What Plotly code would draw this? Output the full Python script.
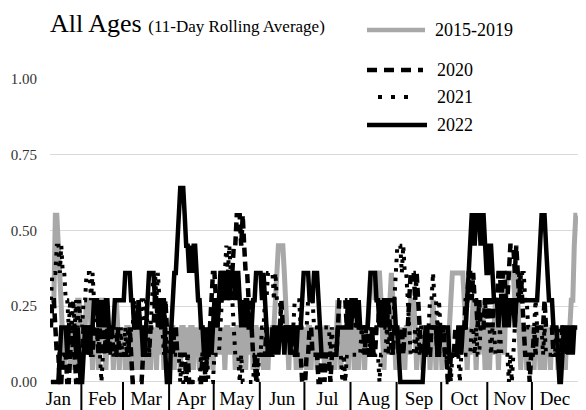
import plotly.graph_objects as go

# ---------------- data (11-day rolling average, daily, Jan 11 .. Dec 31) ----------------
months = ["Jan", "Feb", "Mar", "Apr", "May", "Jun", "Jul", "Aug", "Sep", "Oct", "Nov", "Dec"]
month_days = [31, 28, 31, 30, 31, 30, 31, 31, 30, 31, 30, 31]
first_day = 11

avg_2015_2019 = [
    # Jan 11-31
    0.27, 0.27, 0.27, 0.55, 0.55, 0.45, 0.36, 0.27, 0.18, 0.04, 0.18, 0.09, 0.18, 0.04, 0.18, 0.18, 0.04, 0.18, 0.27, 0.27, 0.18,
    # Feb
    0.04, 0.18, 0.18, 0.27, 0.27, 0.27, 0.18, 0.04, 0.18, 0.09, 0.18, 0.04, 0.18, 0.27, 0.27, 0.18, 0.04, 0.18, 0.09, 0.18,
    0.18, 0.04, 0.18, 0.27, 0.18, 0.04, 0.18, 0.09,
    # Mar
    0.18, 0.04, 0.18, 0.18, 0.04, 0.18, 0.09, 0.18, 0.04, 0.18, 0.18, 0.04, 0.18, 0.09, 0.18, 0.04, 0.18, 0.18, 0.04, 0.18,
    0.09, 0.18, 0.04, 0.18, 0.18, 0.09, 0.18, 0.04, 0.18, 0.09, 0.18,
    # Apr
    0.04, 0.18, 0.18, 0.04, 0.18, 0.09, 0.18, 0.04, 0.18, 0.18, 0.09, 0.09, 0.18, 0.04, 0.18, 0.18, 0.04, 0.18, 0.09, 0.18,
    0.04, 0.18, 0.18, 0.09, 0.18, 0.04, 0.18, 0.09, 0.18, 0.04,
    # May
    0.18, 0.09, 0.18, 0.09, 0.18, 0.09, 0.18, 0.04, 0.18, 0.18, 0.09, 0.18, 0.09, 0.18, 0.04, 0.18, 0.18, 0.04, 0.18, 0.09,
    0.18, 0.04, 0.18, 0.18, 0.09, 0.18, 0.04, 0.18, 0.18, 0.04, 0.18,
    # Jun
    0.09, 0.18, 0.04, 0.18, 0.18, 0.04, 0.18, 0.09, 0.18, 0.18, 0.27, 0.36, 0.45, 0.45, 0.45, 0.45, 0.36, 0.27,
    0.18, 0.04, 0.18, 0.18, 0.09, 0.18, 0.04, 0.18, 0.18, 0.04, 0.18, 0.09,
    # Jul
    0.18, 0.04, 0.18, 0.18, 0.04, 0.18, 0.09, 0.18, 0.04, 0.18, 0.18, 0.09, 0.18, 0.04, 0.18, 0.18, 0.04, 0.18, 0.09, 0.18,
    0.04, 0.18, 0.27, 0.18, 0.04, 0.18, 0.09, 0.18, 0.18, 0.04, 0.18,
    # Aug
    0.09, 0.18, 0.04, 0.18, 0.18, 0.04, 0.18, 0.09, 0.18, 0.04, 0.18, 0.18, 0.27, 0.36,
    0.36, 0.36, 0.27, 0.36, 0.36, 0.36, 0.27, 0.18,
    0.04, 0.18, 0.09, 0.18, 0.27, 0.36, 0.27, 0.18, 0.04,
    # Sep
    0.18, 0.04, 0.18, 0.09, 0.18, 0.04, 0.18, 0.18, 0.09, 0.27, 0.27, 0.27, 0.18, 0.04, 0.18, 0.09, 0.18, 0.04, 0.18, 0.18,
    0.09, 0.18, 0.04, 0.18, 0.27, 0.18, 0.04, 0.18, 0.09, 0.18,
    # Oct
    0.04, 0.18, 0.09, 0.18, 0.04, 0.18, 0.27,
    0.36, 0.36, 0.36, 0.36, 0.36, 0.36, 0.36, 0.36, 0.27,
    0.18, 0.04, 0.18, 0.09, 0.18, 0.27, 0.18, 0.04, 0.18, 0.09, 0.18, 0.27, 0.18, 0.04, 0.18,
    # Nov
    0.18, 0.04, 0.18, 0.09, 0.18, 0.27, 0.18, 0.04, 0.18, 0.27, 0.18, 0.09, 0.27, 0.36, 0.36, 0.36, 0.36, 0.36, 0.27, 0.36,
    0.27, 0.18, 0.04, 0.18, 0.09, 0.18, 0.04, 0.18, 0.18, 0.09,
    # Dec
    0.18, 0.04, 0.18, 0.09, 0.18, 0.04, 0.18, 0.18, 0.04, 0.18, 0.09, 0.18, 0.04, 0.18, 0.18, 0.09, 0.18, 0.04, 0.18, 0.09,
    0.18, 0.18, 0.04, 0.18, 0.18, 0.18, 0.27, 0.27, 0.45, 0.55, 0.55,
]

y2020 = [
    # Jan
    0.18, 0.27, 0.27, 0.18, 0.09, 0.09, 0, 0, 0.09, 0.09, 0.09, 0, 0, 0.09, 0.18, 0.09, 0.09, 0, 0, 0.09, 0.09,
    # Feb
    0.09, 0.18, 0.18, 0.09, 0.18, 0.18, 0.09, 0.09, 0.18, 0.18, 0.18, 0.09, 0.18, 0.18, 0.09, 0.09, 0.18, 0.18, 0.09, 0.18,
    0.18, 0.09, 0.09, 0.09, 0.18, 0.09, 0.09, 0.09,
    # Mar
    0.09, 0.09, 0.09, 0.09, 0.18, 0.09, 0, 0, 0, 0, 0, 0, 0, 0.09, 0.09, 0.09, 0.09, 0.09, 0.18, 0.18,
    0.18, 0.27, 0.27, 0.18, 0.27, 0.27, 0.18, 0.18, 0.27, 0.18, 0.18,
    # Apr
    0.18, 0.18, 0.09, 0.18, 0.18, 0.09, 0.09, 0.09, 0.09, 0.09, 0.09, 0, 0.09, 0, 0, 0, 0, 0, 0, 0,
    0, 0, 0.09, 0.09, 0, 0.09, 0.09, 0.18, 0.27, 0.36,
    # May
    0.36, 0.27, 0.18, 0.27, 0.27, 0.36, 0.36, 0.27, 0.36, 0.27, 0.36, 0.27, 0.36, 0.45, 0.45, 0.55, 0.55, 0.55, 0.45, 0.55,
    0.45, 0.36, 0.36, 0.27, 0.27, 0.18, 0.09, 0.09, 0, 0.09, 0.09,
    # Jun
    0.09, 0.09, 0.09, 0.09, 0.18, 0.09, 0.09, 0.09, 0.09, 0.18, 0.18, 0.18, 0.18, 0.18, 0.27, 0.18, 0.18, 0.18, 0.18, 0.18,
    0.18, 0.09, 0.18, 0.09, 0.09, 0.09, 0.09, 0.09, 0, 0,
    # Jul
    0, 0.09, 0.09, 0.18, 0.18, 0.09, 0.09, 0.09, 0.09, 0, 0, 0.09, 0.09, 0, 0.09, 0.09, 0.09, 0, 0.09, 0.09,
    0.09, 0.09, 0.18, 0.27, 0.27, 0.27, 0.27, 0.27, 0.18, 0.27, 0.27,
    # Aug
    0.27, 0.27, 0.27, 0.18, 0.27, 0.18, 0.18, 0.18, 0.18, 0.09, 0.18, 0.18, 0.09, 0.09, 0.18, 0.09, 0.09, 0.18, 0.18, 0.27,
    0.27, 0.18, 0.27, 0.18, 0.18, 0.27, 0.18, 0.18, 0.09, 0.18, 0.18,
    # Sep
    0.18, 0.09, 0.09, 0.18, 0.09, 0.18, 0.18, 0.18, 0.27, 0.36, 0.36, 0.36, 0.27, 0.36, 0.27, 0.18, 0.09, 0.09, 0.09, 0.09,
    0.18, 0.09, 0.09, 0.18, 0.18, 0.18, 0.18, 0.09, 0.09, 0.18,
    # Oct
    0.18, 0.18, 0.09, 0.09, 0, 0, 0.09, 0.09, 0.09, 0.18, 0.09, 0.09, 0.09, 0.18, 0.18, 0.18, 0.27, 0.27, 0.36, 0.36,
    0.27, 0.36, 0.27, 0.27, 0.18, 0.27, 0.18, 0.18, 0.18, 0.27, 0.27,
    # Nov
    0.18, 0.27, 0.27, 0.18, 0.27, 0.27, 0.27, 0.36, 0.36, 0.27, 0.36, 0.36, 0.27, 0.27, 0.36, 0.45, 0.45, 0.45, 0.36, 0.45,
    0.36, 0.27, 0.36, 0.27, 0.18, 0.09, 0.09, 0.09, 0, 0.09,
    # Dec
    0.09, 0.18, 0.09, 0.18, 0.18, 0.18, 0.18, 0.18, 0.27, 0.18, 0.18, 0.18, 0.18, 0.18, 0.09, 0.09, 0.09, 0.09, 0.09, 0.09,
    0.18, 0.18, 0.18, 0.09, 0.18, 0.18, 0.09, 0.18, 0.18, 0.18, 0.18,
]

y2021 = [
    # Jan
    0.27, 0.36, 0.36, 0.36, 0.45, 0.45, 0.36, 0.45, 0.36, 0.36, 0.27, 0.27, 0.18, 0.27, 0.18, 0.27, 0.18, 0.27, 0.18, 0.27, 0.18,
    # Feb
    0.18, 0.27, 0.27, 0.36, 0.36, 0.36, 0.27, 0.36, 0.27, 0.27, 0.18, 0.09, 0.09, 0, 0.09, 0.09, 0.18, 0.09, 0.18, 0.09,
    0.18, 0.09, 0.09, 0.18, 0.09, 0.09, 0.18, 0.09,
    # Mar
    0.09, 0.18, 0.09, 0.18, 0.09, 0.18, 0.18, 0.27, 0.18, 0.18, 0.27, 0.18, 0.27, 0.27, 0.18, 0.27, 0.18, 0.09, 0.18, 0.27,
    0.36, 0.36, 0.27, 0.36, 0.27, 0.18, 0.18, 0.09, 0.18, 0.09, 0.18,
    # Apr
    0.18, 0.18, 0.09, 0.09, 0.09, 0.09, 0.09, 0, 0.09, 0, 0, 0, 0, 0, 0, 0, 0, 0, 0, 0,
    0, 0.09, 0, 0, 0, 0.09, 0, 0, 0, 0,
    # May
    0.09, 0.09, 0.09, 0.09, 0.18, 0.27, 0.36, 0.36, 0.45, 0.36, 0.45, 0.36, 0.27, 0.18, 0.09, 0.09, 0.09, 0, 0.09, 0,
    0, 0, 0, 0, 0, 0, 0, 0.09, 0.09, 0, 0.09,
    # Jun
    0.09, 0.18, 0.18, 0.27, 0.27, 0.36, 0.36, 0.36, 0.36, 0.27, 0.36, 0.27, 0.27, 0.27, 0.18, 0.18, 0.18, 0.18, 0.18, 0.18,
    0.18, 0.18, 0.18, 0.27, 0.27, 0.27, 0.27, 0.18, 0.18, 0.18,
    # Jul
    0.18, 0.18, 0.27, 0.27, 0.27, 0.27, 0.18, 0.18, 0.18, 0.18, 0.18, 0.18, 0.18, 0.18, 0.18, 0.18, 0.18, 0.09, 0.18, 0.09,
    0.09, 0.09, 0.09, 0.09, 0.09, 0, 0.09, 0, 0.09, 0.09, 0.09,
    # Aug
    0.09, 0.09, 0.09, 0.09, 0.09, 0.09, 0.09, 0.18, 0.09, 0.09, 0.09, 0.09, 0.09, 0.18, 0.09, 0.09, 0.09, 0.09, 0.09, 0,
    0.09, 0.09, 0.09, 0.09, 0.18, 0.09, 0.18, 0.09, 0.18, 0.27, 0.36,
    # Sep
    0.45, 0.45, 0.45, 0.36, 0.45, 0.36, 0.36, 0.27, 0.18, 0.09, 0.09, 0.09, 0.18, 0.09, 0.18, 0.09, 0.18, 0.18, 0.18, 0.18,
    0.18, 0.18, 0.27, 0.27, 0.36, 0.27, 0.27, 0.18, 0.27, 0.18,
    # Oct
    0.18, 0.18, 0.09, 0.09, 0, 0.09, 0, 0.09, 0.09, 0.09, 0.09, 0.09, 0, 0.09, 0.09, 0.09, 0.09, 0.09, 0.09, 0.09,
    0.18, 0.18, 0.09, 0.18, 0.09, 0.09, 0.18, 0.18, 0.18, 0.27, 0.18,
    # Nov
    0.18, 0.18, 0.09, 0.18, 0.18, 0.09, 0.09, 0.09, 0.18, 0.09, 0.09, 0.09, 0.09, 0.09, 0, 0.09, 0, 0.09, 0.18, 0.27,
    0.27, 0.36, 0.27, 0.36, 0.36, 0.27, 0.27, 0.18, 0.18, 0.18,
    # Dec
    0.18, 0.18, 0.27, 0.18, 0.18, 0.18, 0.18, 0.09, 0.18, 0.09, 0.09, 0.09, 0.09, 0.09, 0.09, 0.09, 0.18, 0.18, 0.18, 0.09,
    0.18, 0.18, 0.09, 0.09, 0.18, 0.18, 0.18, 0.18, 0.18, 0.18, 0.18,
]

y2022 = [
    # Jan
    0, 0, 0, 0, 0, 0, 0.09, 0.18, 0.18, 0.18, 0.18, 0.09, 0.18, 0.18, 0.18, 0.18, 0.18, 0.09, 0.18, 0.09, 0,
    # Feb
    0, 0.09, 0.18, 0.18, 0.18, 0.09, 0.18, 0.18, 0.27, 0.27, 0.27, 0.18, 0.27, 0.18, 0.27, 0.18, 0.27, 0.27, 0.18, 0.18,
    0.18, 0.18, 0.27, 0.27, 0.27, 0.27, 0.27, 0.27,
    # Mar
    0.27, 0.36, 0.36, 0.36, 0.36, 0.27, 0.27, 0.18, 0.18, 0.18, 0.27, 0.18, 0.18, 0.09, 0.09, 0.18, 0.27, 0.36, 0.36, 0.36,
    0.36, 0.27, 0.27, 0.27, 0.18, 0.27, 0.27, 0.27, 0.09, 0, 0,
    # Apr
    0, 0.18, 0.27, 0.36, 0.36, 0.45, 0.55, 0.64, 0.64, 0.64, 0.55, 0.45, 0.45, 0.36, 0.45, 0.36, 0.45, 0.45, 0.36, 0.27,
    0.27, 0.18, 0.18, 0.09, 0.18, 0.09, 0.09, 0.18, 0.09, 0.18,
    # May
    0.27, 0.27, 0.18, 0.27, 0.36, 0.36, 0.27, 0.36, 0.36, 0.36, 0.27, 0.36, 0.36, 0.36, 0.27, 0.36, 0.36, 0.27, 0.18, 0.27,
    0.18, 0.27, 0.27, 0.18, 0.18, 0.18, 0.27, 0.27, 0.36, 0.36, 0.36,
    # Jun
    0.36, 0.27, 0.36, 0.27, 0.18, 0.09, 0.09, 0.09, 0.18, 0.09, 0.18, 0.18, 0.09, 0.18, 0.18, 0.18, 0.09, 0.18, 0.18, 0.18,
    0.09, 0.18, 0.18, 0.18, 0.09, 0.18, 0.18, 0.18, 0.27, 0.36,
    # Jul
    0.36, 0.36, 0.36, 0.27, 0.27, 0.27, 0.36, 0.36, 0.36, 0.27, 0.18, 0.09, 0.09, 0.09, 0.09, 0.09, 0.09, 0.09, 0.09, 0.09,
    0.09, 0.09, 0.18, 0.18, 0.18, 0.18, 0.18, 0.18, 0.18, 0.27, 0.18,
    # Aug
    0.18, 0.27, 0.27, 0.27, 0.18, 0.27, 0.18, 0.18, 0.18, 0.18, 0.18, 0.18, 0.27, 0.36, 0.36, 0.36, 0.36, 0.27, 0.27, 0.18,
    0.27, 0.18, 0.27, 0.27, 0.27, 0.27, 0.27, 0.27, 0.27, 0.27, 0.18,
    # Sep
    0.18, 0.09, 0, 0, 0, 0, 0, 0, 0, 0, 0, 0, 0, 0, 0, 0, 0, 0, 0.09, 0.18,
    0.18, 0.18, 0.18, 0.18, 0.18, 0.18, 0.18, 0.09, 0.09, 0.18,
    # Oct
    0.18, 0.18, 0.18, 0.18, 0.18, 0.09, 0.09, 0.09, 0.09, 0.09, 0.09, 0.18, 0.18, 0.09, 0.18, 0.18, 0.18, 0.27, 0.36, 0.45,
    0.55, 0.55, 0.45, 0.55, 0.55, 0.55, 0.45, 0.55, 0.55, 0.45, 0.36,
    # Nov
    0.36, 0.45, 0.45, 0.36, 0.27, 0.27, 0.27, 0.18, 0.27, 0.27, 0.27, 0.18, 0.27, 0.27, 0.18, 0.27, 0.27, 0.27, 0.18, 0.27,
    0.27, 0.27, 0.27, 0.27, 0.27, 0.27, 0.27, 0.27, 0.27, 0.27,
    # Dec
    0.27, 0.27, 0.27, 0.27, 0.36, 0.45, 0.55, 0.55, 0.55, 0.45, 0.36, 0.27, 0.27, 0.27, 0.18, 0.18, 0.18, 0.09, 0, 0,
    0.09, 0.18, 0.18, 0.18, 0.09, 0.18, 0.18, 0.09, 0.18, 0.18, 0.18,
]

y_ticks = [0, 0.25, 0.5, 0.75, 1.0]
y_tick_labels = ["0.00", "0.25", "0.50", "0.75", "1.00"]

# ---------------- layout helpers ----------------
# The page body adds an 8px offset, so the figure is drawn 8px smaller and
# reference pixel positions are converted with that offset.
OFF = 8
W, H = 586 - OFF, 410 - OFF
ML, MR, MT, MB = 50 - OFF, 8, 79 - OFF, 25
PW, PH = W - ML - MR, H - MT - MB
Y_LO, Y_HI = -0.01, 1.0


def px_x(px):
    return (px - OFF - ML) / PW


def px_y(py):
    return 1 - (py - OFF - MT) / PH


days = list(range(first_day, first_day + len(y2022)))

# month boundaries / label positions (day-of-year)
bounds = []
acc = 0
for n in month_days:
    acc += n
    bounds.append(acc + 0.5)
starts = [0.5] + bounds[:-1]
mids = [(a + b) / 2 for a, b in zip(starts, bounds)]
mids[0] = 16  # Jan label sits in the visible part of January

X_LO, X_HI = 10.4, 365.5

SERIF = "Liberation Serif, Times New Roman, serif"
GRAY = "#a8a8a8"

fig = go.Figure()
fig.add_trace(go.Scatter(x=days, y=avg_2015_2019, mode="lines", name="2015-2019",
                         line=dict(color=GRAY, width=5), showlegend=False))
fig.add_trace(go.Scatter(x=days, y=y2020, mode="lines", name="2020",
                         line=dict(color="black", width=4.5, dash="9px,5px"), showlegend=False))
fig.add_trace(go.Scatter(x=days, y=y2021, mode="lines", name="2021",
                         line=dict(color="black", width=4, dash="3.5px,6px"), showlegend=False))
fig.add_trace(go.Scatter(x=days, y=y2022, mode="lines", name="2022",
                         line=dict(color="black", width=4.5), showlegend=False))

shapes = []
# month separators below the axis
for b in bounds[:-1]:
    shapes.append(dict(type="line", xref="x", yref="paper", x0=b, x1=b,
                       y0=px_y(382), y1=px_y(412), line=dict(color="black", width=2)))

# manual legend
legend_items = [
    ("2015-2019", 30, 367, 425, dict(color=GRAY, width=4.5), 433),
    ("2020", 70, 367, 423, dict(color="black", width=4.5, dash="10px,7px"), 435),
    ("2021", 97, 378, 417, dict(color="black", width=4, dash="4px,9px"), 435),
    ("2022", 125, 367, 427, dict(color="black", width=4.5), 435),
]
annotations = []
for name, yc, xa, xb, ln, xt in legend_items:
    shapes.append(dict(type="line", xref="paper", yref="paper", x0=px_x(xa), x1=px_x(xb),
                       y0=px_y(yc), y1=px_y(yc), line=ln))
    annotations.append(dict(text=name, xref="paper", yref="paper", x=px_x(xt), y=px_y(yc),
                            xanchor="left", yanchor="middle", showarrow=False,
                            font=dict(family=SERIF, size=18, color="black")))

# title (top of its text box kept at the top edge of the figure)
annotations.append(dict(
    text="All Ages <span style='font-size:17px'>(11-Day Rolling Average)</span>",
    xref="paper", yref="paper", x=px_x(49), y=px_y(OFF), xanchor="left", yanchor="top",
    borderpad=0, showarrow=False, font=dict(family=SERIF, size=26, color="black")))

fig.update_layout(
    width=W, height=H,
    margin=dict(l=ML, r=MR, t=MT, b=MB, pad=0, autoexpand=False),
    paper_bgcolor="white", plot_bgcolor="white",
    showlegend=False,
    shapes=shapes,
    annotations=annotations,
    xaxis=dict(range=[X_LO, X_HI], tickmode="array", tickvals=mids, ticktext=months,
               showgrid=False, zeroline=False, showline=False, ticks="", automargin=False,
               tickfont=dict(family=SERIF, size=19, color="black")),
    yaxis=dict(range=[Y_LO, Y_HI], tickmode="array", tickvals=y_ticks, ticktext=y_tick_labels,
               showgrid=True, gridcolor="#d9d9d9", gridwidth=1, zeroline=False, showline=False,
               ticks="", ticklabelstandoff=12, automargin=False,
               tickfont=dict(family=SERIF, size=15, color="#333333")),
)

fig.write_html("out.html")
